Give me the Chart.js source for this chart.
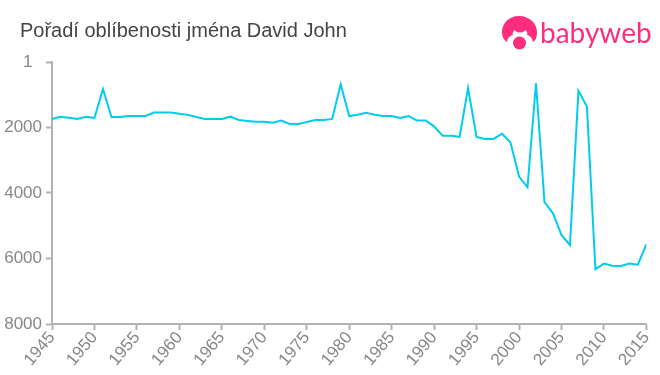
<!DOCTYPE html>
<html>
<head>
<meta charset="utf-8">
<script src="https://cdn.jsdelivr.net/npm/chart.js@4"></script>
<style>
  html, body { margin: 0; padding: 0; background: #fff; }
  #wrap { position: relative; width: 660px; height: 375px; overflow: hidden; }
  #logo { position: absolute; left: 500px; top: 15px; }
  #logo-text { position: absolute; left: 540px; top: 15px; font: 28px Lato, sans-serif; color: #ff2d7d; }
</style>
</head>
<body>
<div id="wrap">
  <canvas id="chart" width="660" height="375"></canvas>
  <svg id="logo" width="40" height="36" viewBox="0 0 40 36">
    <path d="M19 1 C8 1 2 9 2 17 C2 22 4 25 7 27 C8 22 11 20 13 20 C12 18 13 16 15 15 C16 17 18 18 20 17 C22 18 24 17 25 15 C27 16 28 18 27 20 C29 20 32 22 33 27 C36 25 37 22 37 17 C37 9 30 1 19 1 Z" fill="#ff2d7d"/>
    <circle cx="19.5" cy="28" r="6.5" fill="#ff2d7d"/>
  </svg>
  <div id="logo-text">babyweb</div>
</div>
<script>
// hodnoty
const years = [1945, 1946, 1947, 1948, 1949, 1950, 1951, 1952, 1953, 1954, 1955, 1956, 1957, 1958, 1959, 1960, 1961, 1962, 1963, 1964, 1965, 1966, 1967, 1968, 1969, 1970, 1971, 1972, 1973, 1974, 1975, 1976, 1977, 1978, 1979, 1980, 1981, 1982, 1983, 1984, 1985, 1986, 1987, 1988, 1989, 1990, 1991, 1992, 1993, 1994, 1995, 1996, 1997, 1998, 1999, 2000, 2001, 2002, 2003, 2004, 2005, 2006, 2007, 2008, 2009, 2010, 2011, 2012, 2013, 2014, 2015];
const ranks = [1740, 1670, 1700, 1740, 1670, 1710, 825, 1680, 1680, 1650, 1650, 1650, 1545, 1545, 1545, 1580, 1615, 1680, 1740, 1740, 1740, 1670, 1770, 1800, 1825, 1825, 1855, 1790, 1895, 1895, 1830, 1770, 1770, 1740, 680, 1650, 1610, 1550, 1610, 1650, 1650, 1710, 1650, 1790, 1790, 1965, 2250, 2250, 2285, 800, 2290, 2350, 2350, 2190, 2460, 3500, 3825, 650, 4280, 4620, 5280, 5590, 875, 1365, 6330, 6155, 6220, 6230, 6155, 6190, 5560];
const yTicks = [1, 2000, 4000, 6000, 8000];
const titleText = "Pořadí oblíbenosti jména David John";

const axisColor = "#b3b3b3";
const tickColor = "#888888";

// titulek odsadit zleva, osa y zůstane na šířce 52
const titleIndent = {
  id: "titleIndent",
  beforeDraw: (chart) => { chart.titleBlock.left = 20; },
};

new Chart(document.getElementById("chart"), {
  type: "line",
  plugins: [titleIndent],
  data: {
    datasets: [{
      data: years.map((y, i) => ({ x: y, y: ranks[i] })),
      borderColor: "#00ccee",
      borderWidth: 2,
      pointRadius: 0,
      tension: 0,
      fill: false,
    }],
  },
  options: {
    responsive: false,
    animation: false,
    layout: { padding: { left: 0, right: 13, top: 0, bottom: 0 } },
    plugins: {
      legend: { display: false },
      tooltip: { enabled: false },
      title: {
        display: true,
        text: titleText,
        align: "start",
        color: "#444444",
        font: { family: "Liberation Sans", size: 20, weight: "normal" },
        padding: { top: 19, bottom: 19 },
        fullSize: true,
      },
    },
    scales: {
      x: {
        type: "linear",
        min: 1945,
        max: 2015,
        border: { color: axisColor, width: 2 },
        grid: { drawOnChartArea: false, drawTicks: true, tickLength: 6, tickColor: axisColor, tickWidth: 2 },
        afterBuildTicks: (scale) => {
          scale.ticks = years.filter((y) => y % 5 === 0).map((y) => ({ value: y }));
        },
        afterFit: (scale) => { scale.height = 51; },
        ticks: {
          color: tickColor,
          font: { family: "Liberation Sans", size: 17 },
          maxRotation: 50,
          minRotation: 50,
          autoSkip: false,
          padding: -2,
          callback: (v) => String(v),
        },
      },
      y: {
        reverse: true,
        min: 1,
        max: 8000,
        border: { color: axisColor, width: 2 },
        grid: { drawOnChartArea: false, drawTicks: true, tickLength: 6, tickColor: axisColor, tickWidth: 2 },
        afterBuildTicks: (scale) => {
          scale.ticks = yTicks.map((v) => ({ value: v }));
        },
        afterFit: (scale) => { scale.width = 52; },
        ticks: {
          color: tickColor,
          font: { family: "Liberation Sans", size: 17 },
          padding: 4,
          autoSkip: false,
          // "1" stojí v předloze víc vlevo
          callback: (v) => (v === 1 ? "1  " : String(v)),
        },
      },
    },
  },
});
</script>
</body>
</html>
